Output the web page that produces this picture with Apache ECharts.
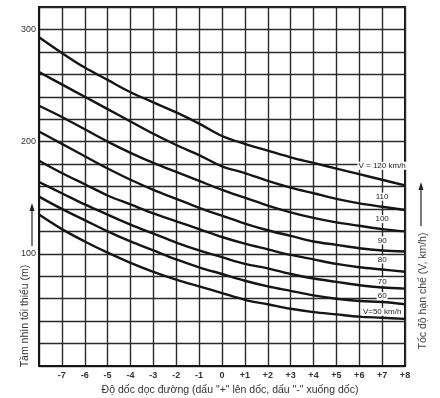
<!DOCTYPE html>
<html><head><meta charset="utf-8">
<script src="https://cdn.jsdelivr.net/npm/echarts/dist/echarts.min.js"></script>
<style>html,body{margin:0;padding:0;background:#fff}#c{width:440px;height:398px}</style>
</head><body><div id="c"></div>
<script>
// Grade (%) categories along x
const grades = [-8,-7,-6,-5,-4,-3,-2,-1,0,1,2,3,4,5,6,7,8];
// Minimum sight distance (m) for each speed limit
const v120 = [293,279,266,255,244,235,226,216,205,198,192,186,181,176,171,166,161];
const v110 = [262,251,240,229,218,207,197,188,178,172,165,159,154,149,145,142,139];
const v100 = [232,222,211,200,190,181,173,165,157,150,143,137,132,128,125,122,120];
const v90  = [209,198,187,176,166,157,149,141,134,127,121,116,111,108,105,103,102];
const v80  = [183,172,162,152,144,136,129,122,115,109,104,99,95,91,88,86,84];
const v70  = [164,154,144,135,126,118,110,103,97,91,87,82,78,75,72,70,69];
const v60  = [151,140,130,120,111,103,95,88,82,76,71,67,63,60,58,57,55];
const v50  = [135,122,111,101,92,84,77,71,65,59,55,51,48,46,44,43,42];
const seriesValues = [v120, v110, v100, v90, v80, v70, v60, v50];
const speedLabels = ['V = 120 km/h','110','100','90','80','70','60','V=50 km/h'];
const yTickLabels = [100, 200, 300];
const labelGrade = 7;

const chart = echarts.init(document.getElementById('c'), null, {renderer: 'canvas'});
const font = '"Liberation Sans", Arial, sans-serif';
const ink = '#151515';

const series = seriesValues.map((arr, k) => ({
  type: 'line',
  data: grades.map((g, i) => [g, arr[i]]),
  smooth: 0.35,
  symbol: 'none',
  lineStyle: {color: ink, width: 2.4},
  z: 3,
  markPoint: {
    symbol: 'circle', symbolSize: 0, silent: true,
    data: [{coord: [labelGrade, arr[grades.indexOf(labelGrade)]]}],
    label: {
      show: true, position: 'inside', formatter: speedLabels[k],
      offset: [0, k === 0 ? -14 : (k >= 5 ? -6 : -10)],
      color: '#222', fontFamily: font, fontSize: 8,
      backgroundColor: '#fff', padding: [0, 1]
    }
  }
}));

chart.setOption({
  animation: false,
  backgroundColor: '#fff',
  grid: {left: 39, right: 35, top: 7, bottom: 32, show: true, borderColor: ink, borderWidth: 2, backgroundColor: 'transparent'},
  xAxis: {
    type: 'value', min: -8, max: 8, interval: 1,
    axisLine: {show: true, onZero: false, lineStyle: {color: ink, width: 2}},
    axisTick: {show: false},
    splitLine: {show: true, lineStyle: {color: '#2a2a2a', width: 1.4}},
    axisLabel: {
      margin: 5, fontFamily: font, fontSize: 9, fontWeight: 'bold', color: '#333',
      formatter: v => v === -8 ? '' : (v > 0 ? '+' + v : String(v))
    }
  },
  yAxis: {
    type: 'value', min: 0, max: 320, interval: 20,
    axisLine: {show: true, onZero: false, lineStyle: {color: ink, width: 2}},
    axisTick: {show: false},
    splitLine: {show: true, lineStyle: {color: '#2a2a2a', width: 1.4}},
    axisLabel: {
      margin: 3, fontFamily: font, fontSize: 9, color: '#333',
      formatter: v => yTickLabels.indexOf(v) >= 0 ? String(v) : ''
    }
  },
  series: series,
  graphic: [
    {type: 'text', x: 25, y: 316, rotation: Math.PI / 2,
     style: {text: 'Tầm nhìn tối thiểu (m)', fontFamily: font, fontSize: 10.5, fill: '#333', textAlign: 'center', textVerticalAlign: 'middle'}},
    {type: 'line', shape: {x1: 32, y1: 246, x2: 32, y2: 208}, style: {stroke: '#222', lineWidth: 1.2}},
    {type: 'polygon', shape: {points: [[32, 203], [29.5, 211], [34.5, 211]]}, style: {fill: '#222'}},
    {type: 'text', x: 423, y: 291, rotation: Math.PI / 2,
     style: {text: 'Tốc độ hạn chế (V, km/h)', fontFamily: font, fontSize: 10.5, fill: '#444', textAlign: 'center', textVerticalAlign: 'middle'}},
    {type: 'line', shape: {x1: 421, y1: 226, x2: 421, y2: 188}, style: {stroke: '#222', lineWidth: 1.2}},
    {type: 'polygon', shape: {points: [[421, 182], [418.5, 190], [423.5, 190]]}, style: {fill: '#222'}},
    {type: 'text', x: 230, y: 390,
     style: {text: 'Độ dốc dọc đường (dấu "+" lên dốc, dấu "-" xuống dốc)', fontFamily: font, fontSize: 10.5, fill: '#333', textAlign: 'center', textVerticalAlign: 'middle'}}
  ]
});
</script>
</body></html>
